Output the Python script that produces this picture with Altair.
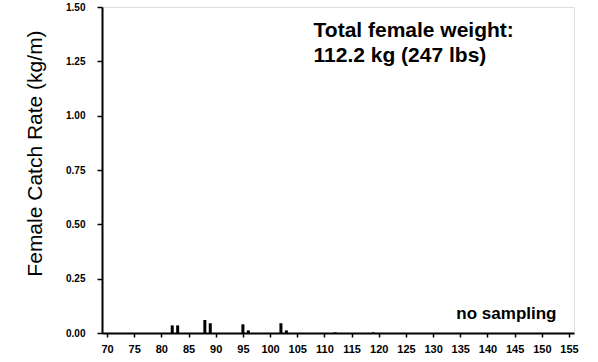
import altair as alt
import pandas as pd

# Length classes (cm) and female catch rates (kg/m)
lengths = [82, 83, 88, 89, 95, 96, 102, 103, 112, 119]
catch_rate = [0.035, 0.035, 0.06, 0.045, 0.04, 0.012, 0.045, 0.012, 0.003, 0.003]

x_ticks = list(range(70, 160, 5))
y_ticks = [0.0, 0.25, 0.5, 0.75, 1.0, 1.25, 1.5]

df = pd.DataFrame({"length": lengths, "rate": catch_rate})

notes = pd.DataFrame({
    "length": [108.0, 108.0, 152.7],
    "rate": [1.362, 1.247, 0.064],
    "text": ["Total female weight:", "112.2 kg (247 lbs)", "no sampling"],
    "size": [21, 21, 17],
    "align": ["left", "left", "right"],
})

x_scale = alt.Scale(domain=[70, 155], nice=False, zero=False)
y_scale = alt.Scale(domain=[0, 1.5], nice=False)

x_axis = alt.Axis(values=x_ticks, title=None, format="d",
                  labelOverlap=False,
                  labelFont="Liberation Sans", labelFontWeight="bold",
                  labelFontSize=11, labelColor="black", labelPadding=6,
                  tickSize=4, tickColor="black", tickWidth=1.5,
                  domainColor="black", domainWidth=2, grid=False)
y_axis = alt.Axis(values=y_ticks, format=".2f",
                  title="Female Catch Rate (kg/m)",
                  titleFont="Liberation Sans", titleFontSize=21,
                  titleFontWeight="normal", titleColor="black",
                  titleX=-67, titleY=146, titleBaseline="middle",
                  labelFont="Liberation Sans", labelFontWeight="bold",
                  labelFontSize=10, labelColor="black", labelPadding=12,
                  tickSize=5, tickColor="black", tickWidth=1.5,
                  domainColor="black", domainWidth=2, grid=False)

x_enc = alt.X("length:Q", scale=x_scale, axis=x_axis)
y_enc = alt.Y("rate:Q", scale=y_scale, axis=y_axis)

bars = alt.Chart(df).mark_bar(size=3, color="black").encode(x=x_enc, y=y_enc)

def note(i):
    row = notes.iloc[[i]]
    return alt.Chart(row).mark_text(
        font="Liberation Sans", fontWeight="bold",
        fontSize=int(row["size"].iloc[0]), align=row["align"].iloc[0],
        baseline="alphabetic", color="black",
    ).encode(x=x_enc, y=y_enc, text="text:N")

chart = alt.layer(bars, note(0), note(1), note(2)).properties(
    width=472, height=326,
    padding={"left": 102, "top": 7, "right": 24, "bottom": 29},
    autosize=alt.AutoSizeParams(type="none"),
).configure_view(stroke="black", strokeWidth=1.5).configure(background="white")

chart.save("out.html", embed_options={"renderer": "svg", "actions": False})
